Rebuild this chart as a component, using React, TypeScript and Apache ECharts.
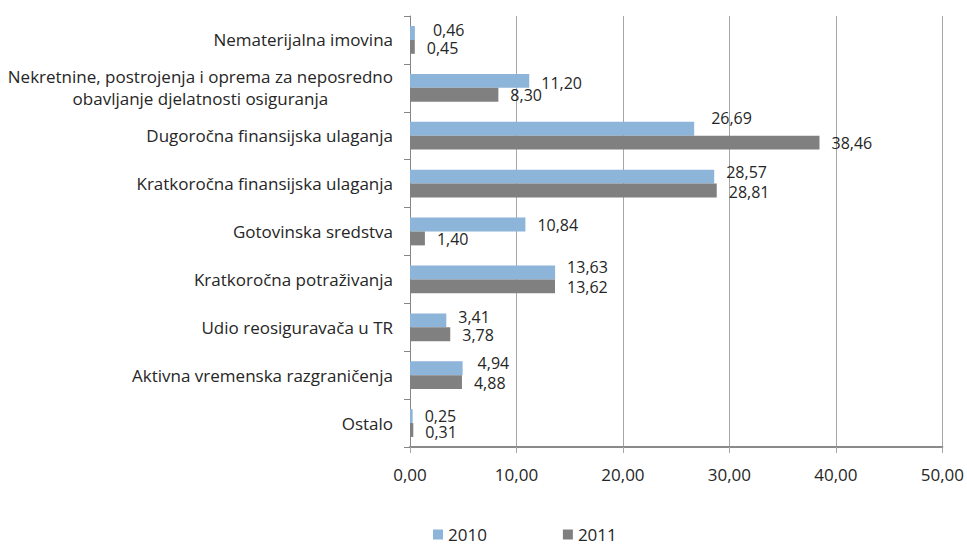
import React, { useEffect, useRef } from "react";
import * as echarts from "echarts";

const categories = [
  "Nematerijalna imovina",
  "Nekretnine, postrojenja i oprema za neposredno\nobavljanje djelatnosti osiguranja",
  "Dugoročna finansijska ulaganja",
  "Kratkoročna finansijska ulaganja",
  "Gotovinska sredstva",
  "Kratkoročna potraživanja",
  "Udio reosiguravača u TR",
  "Aktivna vremenska razgraničenja",
  "Ostalo",
];
const values2010 = [0.46, 11.2, 26.69, 28.57, 10.84, 13.63, 3.41, 4.94, 0.25];
const values2011 = [0.45, 8.3, 38.46, 28.81, 1.4, 13.62, 3.78, 4.88, 0.31];
const xTicks = { min: 0, max: 50, interval: 10 };

// label placement tweaks (layout only)
const labelShift2010 = [[6, -3], [0, 2], [5, -11], [0, -5], [0, 0], [0, -5], [0, -3], [3, -5], [0, 0]];
const labelShift2011 = [[0, 1], [0, 0], [0, 0], [0, 1], [0, 1], [0, 1], [0, 1], [0, 1], [0, 2]];

const FONT = "'Open Sans', 'Noto Sans', sans-serif";
const TEXT = "#262626";
const FS = 17;
const fmt = (v: number) => v.toFixed(2).replace(".", ",");

export default function App() {
  const ref = useRef<HTMLDivElement>(null);
  useEffect(() => {
    if (!ref.current) return;
    const chart = echarts.init(ref.current, undefined, { renderer: "svg" });
    const mk = (vals: number[], shifts: number[][]) =>
      vals.map((v, i) => ({ value: v, label: { offset: shifts[i] } }));
    const labelCfg = {
      show: true,
      position: "right",
      distance: 12,
      fontFamily: FONT,
      fontSize: 16,
      lineHeight: 14,
      color: TEXT,
      formatter: (p: any) => fmt(p.value),
    };
    chart.setOption({
      animation: false,
      textStyle: { fontFamily: FONT },
      grid: { left: 410, right: 23, top: 16, bottom: 98, containLabel: false },
      legend: {
        left: 433,
        top: 526,
        padding: 0,
        itemWidth: 10,
        itemHeight: 10,
        itemGap: 76,
        icon: "rect",
        textStyle: { fontFamily: FONT, fontSize: FS, lineHeight: 17, color: TEXT },
        data: ["2010", "2011"],
      },
      xAxis: {
        type: "value",
        min: xTicks.min,
        max: xTicks.max,
        interval: xTicks.interval,
        axisLine: { show: true, lineStyle: { color: "#8a8a8a", width: 2 } },
        axisTick: { show: true, length: 6, lineStyle: { color: "#a6a6a6" } },
        splitLine: { show: true, lineStyle: { color: "#a6a6a6", width: 1 } },
        axisLabel: {
          margin: 19,
          fontFamily: FONT,
          fontSize: FS,
          color: TEXT,
          formatter: (v: number) => fmt(v),
        },
      },
      yAxis: {
        type: "category",
        inverse: true,
        data: categories,
        axisLine: { show: true, lineStyle: { color: "#868686", width: 1 } },
        axisTick: { show: true, length: 6, lineStyle: { color: "#868686" } },
        axisLabel: {
          margin: 17,
          color: TEXT,
          fontFamily: FONT,
          fontSize: FS,
          formatter: (v: string) =>
            v
              .split("\n")
              .map((l) => `{c|${l}}`)
              .join("\n"),
          rich: {
            c: { align: "center", fontFamily: FONT, fontSize: FS, color: TEXT, lineHeight: 22 },
          },
        },
      },
      series: [
        {
          name: "2010",
          type: "bar",
          data: mk(values2010, labelShift2010),
          barGap: "0%",
          barCategoryGap: "42%",
          itemStyle: { color: "#8db4d9" },
          label: labelCfg,
        },
        {
          name: "2011",
          type: "bar",
          data: mk(values2011, labelShift2011),
          barGap: "0%",
          barCategoryGap: "42%",
          itemStyle: { color: "#808080" },
          label: labelCfg,
        },
      ],
    });
    return () => chart.dispose();
  }, []);
  return <div ref={ref} style={{ width: 967, height: 545, position: "absolute", left: 0, top: 0 }} />;
}
